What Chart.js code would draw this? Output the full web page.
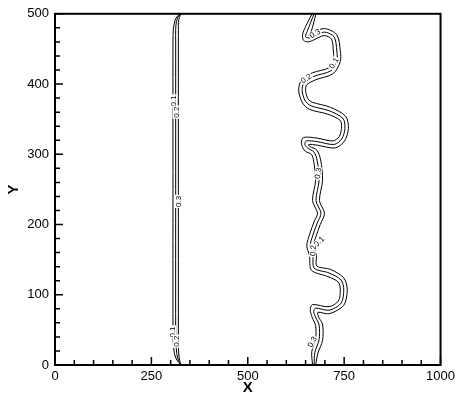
<!DOCTYPE html>
<html>
<head>
<meta charset="utf-8">
<script src="https://cdn.jsdelivr.net/npm/chart.js@4.4.0/dist/chart.umd.min.js"></script>
<style>
html, body { margin: 0; padding: 0; background: #fff; }
canvas { display: block; }
</style>
</head>
<body>
<canvas id="contourChart" width="459" height="403"></canvas>
<script>
// contour lines as [x, y] pairs
const leftLevel1 = [[327,500],[318,497],[311,490],[307,478],[306,460],[306,250],[306,50],[307,30],[310,16],[316,7],[327,0]];
const leftLevel2 = [[327,500],[320,496],[315,489],[313,478],[313,460],[313,250],[313,50],[314,30],[316,16],[320,7],[327,0]];
const leftLevel3 = [[327,500],[323,495],[320,488],[320,478],[320,460],[320,250],[320,50],[320,30],[321,16],[323,7],[327,0]];

const rightLevel1 = [[667,500],[650,482],[642,470],[645,462],[656,460],[668,462],[698,469],[717,464],[722,447],[722,434],[710,423],[668,416],[639,405],[632,391],[642,373],[660,364],[708,357],[740,348],[743,337],[737,325],[721,319],[680,323],[645,324],[639,317],[643,309],[650,304],[665,300],[671,290],[676,263],[668,234],[681,216],[672,204],[661,187],[653,170],[660,156],[665,135],[707,126],[735,118],[740,107],[735,91],[711,83],[668,86],[662,79],[667,68],[676,56],[676,37],[666,19],[668,0]];
const rightLevel2 = [[672,500],[655,476],[650,467],[664,466],[698,474],[724,467],[731,447],[731,433],[716,419],[672,411],[646,402],[641,391],[649,376],[664,369],[711,362],[747,351],[752,337],[744,322],[724,314],[680,318],[652,319],[648,314],[655,309],[672,303],[680,291],[685,263],[677,234],[690,216],[680,202],[669,185],[662,170],[669,156],[672,138],[711,131],[742,121],[749,107],[742,88],[711,78],[676,81],[671,76],[676,68],[685,57],[685,36],[674,18],[672,0]];
const rightLevel3 = [[677,500],[664,474],[657,469],[664,471],[698,479],[731,470],[740,447],[740,432],[722,415],[676,406],[653,399],[650,391],[656,379],[668,374],[714,367],[754,354],[761,337],[751,319],[727,309],[680,313],[658,314],[661,311],[679,306],[689,292],[694,263],[686,234],[699,216],[688,200],[677,183],[671,170],[678,156],[679,141],[715,136],[749,124],[758,107],[749,85],[711,73],[682,75],[684,68],[694,58],[694,35],[682,17],[676,0]];

// in-line contour labels
const labelText  = ['0.1', '0.2', '0.3', '0.1', '0.2', '0.3', '0.1', '0.2', '0.3', '0.1', '0.2', '0.3'];
const labelX     = [307, 314, 319, 305, 315, 674, 723, 651, 682, 685, 669, 667];
const labelY     = [376, 360, 233, 47, 34, 472, 430, 408, 273, 176, 163, 33];
const labelAngle = [-90, -90, -90, -90, -90, -30, -60, -35, -80, -45, -85, -60];

const xTickStep = 250, xMinorStep = 50;
const yTickStep = 100, yMinorStep = 20;

const contours = [leftLevel1, leftLevel2, leftLevel3, rightLevel1, rightLevel2, rightLevel3];

const fontFamily = '"Liberation Sans", Arial, sans-serif';

// frame, inward ticks and contour labels
const framePlugin = {
    id: 'framePlugin',
    afterDatasetsDraw(chart) {
        const { ctx, chartArea: a, scales: { x, y } } = chart;

        ctx.save();
        ctx.font = '8px ' + fontFamily;
        ctx.textAlign = 'center';
        ctx.textBaseline = 'middle';
        labelText.forEach((t, i) => {
            const px = x.getPixelForValue(labelX[i]);
            const py = y.getPixelForValue(labelY[i]);
            ctx.save();
            ctx.translate(px, py);
            ctx.rotate(labelAngle[i] * Math.PI / 180);
            const w = ctx.measureText(t).width;
            ctx.fillStyle = '#fff';
            ctx.fillRect(-w / 2 - 1, -3.5, w + 2, 7);
            ctx.fillStyle = '#000';
            ctx.fillText(t, 0, 0.5);
            ctx.restore();
        });
        ctx.restore();

        ctx.save();
        ctx.strokeStyle = '#000';
        ctx.lineWidth = 1.5;
        ctx.beginPath();
        for (let v = x.min; v <= x.max; v += xMinorStep) {
            const px = x.getPixelForValue(v);
            const len = v % xTickStep === 0 ? 8 : 5;
            ctx.moveTo(px, a.bottom);
            ctx.lineTo(px, a.bottom - len);
        }
        for (let v = y.min; v <= y.max; v += yMinorStep) {
            const py = y.getPixelForValue(v);
            const len = v % yTickStep === 0 ? 8 : 5;
            ctx.moveTo(a.left, py);
            ctx.lineTo(a.left + len, py);
        }
        ctx.stroke();

        ctx.lineWidth = 2;
        ctx.strokeRect(a.left, a.top, a.right - a.left, a.bottom - a.top);
        ctx.restore();
    }
};

var ctxC = document.getElementById('contourChart').getContext('2d');
var chart = new Chart(ctxC, {
    type: 'scatter',
    data: {
        datasets: contours.map(c => ({
            data: c.map(p => ({ x: p[0], y: p[1] })),
            showLine: true,
            borderColor: '#000',
            borderWidth: 1,
            pointRadius: 0,
            tension: 0.3,
            fill: false
        }))
    },
    options: {
        responsive: false,
        animation: false,
        layout: { padding: { top: 13, right: 17, left: 0, bottom: 0 } },
        plugins: {
            legend: { display: false },
            tooltip: { enabled: false }
        },
        scales: {
            x: {
                type: 'linear',
                min: 0,
                max: 1000,
                grid: { display: false, drawTicks: false },
                border: { display: false },
                ticks: { stepSize: xTickStep, padding: 4, color: '#000', font: { family: fontFamily, size: 13 },
                    callback: v => String(v) },
                title: { display: true, text: 'X', color: '#000', font: { family: fontFamily, size: 15, weight: 'bold' }, padding: { top: 0, bottom: 6 } },
                afterFit(s) { s.height = 38; }
            },
            y: {
                type: 'linear',
                min: 0,
                max: 500,
                grid: { display: false, drawTicks: false },
                border: { display: false },
                ticks: { stepSize: yTickStep, padding: 6, color: '#000', font: { family: fontFamily, size: 13 },
                    callback: v => String(v) },
                title: { display: true, text: 'Y', color: '#000', font: { family: fontFamily, size: 15, weight: 'bold' }, padding: { top: 5, bottom: 0 } },
                afterFit(s) { s.width = 55; }
            }
        }
    },
    plugins: [framePlugin]
});
</script>
</body>
</html>
